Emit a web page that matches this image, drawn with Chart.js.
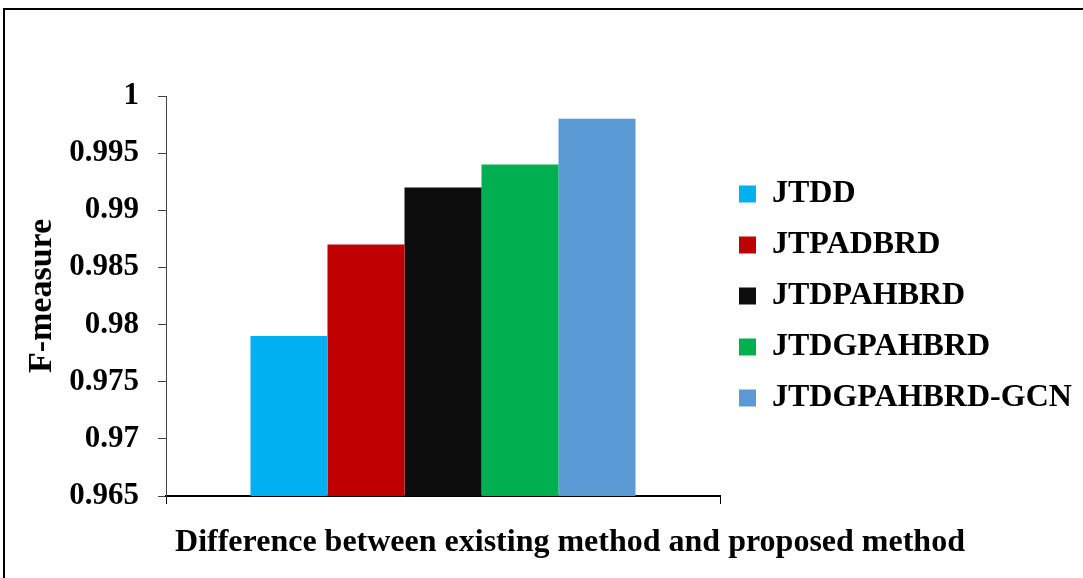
<!DOCTYPE html>
<html>
<head>
<meta charset="utf-8">
<script src="https://cdn.jsdelivr.net/npm/chart.js@4.4.0/dist/chart.umd.min.js"></script>
<style>
  html, body { margin: 0; padding: 0; background: #fff; }
  #wrap { width: 1083px; height: 578px; position: relative; }
</style>
</head>
<body>
<div id="wrap"><canvas id="fChart"></canvas></div>
<script>
const categories = [''];
const methods = ['JTDD', 'JTPADBRD', 'JTDPAHBRD', 'JTDGPAHBRD', 'JTDGPAHBRD-GCN'];
const fMeasure = [0.979, 0.987, 0.992, 0.994, 0.998];
const barColors = ['#00B0F0', '#C00000', '#0D0D0D', '#00B050', '#5B9BD5'];
const xCaption = 'Difference between existing method and proposed method';

const serif = 'Liberation Serif, Times New Roman, serif';

// outer frame + x caption (scale title would get squeezed to the axis width)
const framePlugin = {
  id: 'frame',
  beforeLayout(chart) {
    // the legend is capped at a quarter of the width by default, let it be wider
    const lg = chart.legend;
    if (lg && !lg._wide) {
      const fit = lg.fit;
      lg.fit = function () { fit.call(this); this.width = 363; };
      lg._wide = true;
    }
  },
  afterDraw(chart) {
    const c = chart.ctx;
    c.save();
    c.strokeStyle = '#000';
    c.lineWidth = 2;
    c.strokeRect(4, 9, chart.width + 10, chart.height + 10);
    c.fillStyle = '#000';
    c.font = 'bold 32px ' + serif;
    c.textAlign = 'center';
    c.textBaseline = 'middle';
    c.fillText(xCaption, 570, 543);
    c.restore();
  }
};

const ctx = document.getElementById('fChart');

new Chart(ctx, {
  type: 'bar',
  data: {
    labels: categories,
    datasets: methods.map((m, i) => ({
      label: m,
      data: [fMeasure[i]],
      backgroundColor: barColors[i],
      borderWidth: 0
    }))
  },
  options: {
    responsive: true,
    maintainAspectRatio: false,
    animation: false,
    layout: { padding: { top: 96, left: 20, right: 0, bottom: 74 } },
    datasets: { bar: { categoryPercentage: 0.695, barPercentage: 1 } },
    plugins: {
      tooltip: { enabled: false },
      legend: {
        position: 'right',
        fullSize: false,
        labels: {
          boxWidth: 17,
          boxHeight: 17,
          padding: 19,
          color: '#000',
          font: { family: serif, size: 32, weight: 'bold' }
        }
      }
    },
    scales: {
      x: {
        grid: { display: true, drawOnChartArea: false, drawTicks: true, tickLength: 8, color: '#000', offset: true },
        border: { color: '#000', width: 2 },
        ticks: { display: false },
        title: { display: false }
      },
      y: {
        min: 0.965,
        max: 1,
        afterFit(scale) { scale.width = 146; },
        grid: { display: true, drawOnChartArea: false, drawTicks: true, tickLength: 8, color: '#444' },
        border: { color: '#444', width: 1 },
        ticks: {
          stepSize: 0.005,
          color: '#000',
          padding: 19,
          font: { family: serif, size: 31, weight: 'bold' },
          callback: v => parseFloat(v.toFixed(3)).toString()
        },
        title: {
          display: true,
          text: 'F-measure',
          color: '#000',
          font: { family: serif, size: 34, weight: 'bold' },
          padding: { top: 2, bottom: 0 }
        }
      }
    }
  },
  plugins: [framePlugin]
});
</script>
</body>
</html>
